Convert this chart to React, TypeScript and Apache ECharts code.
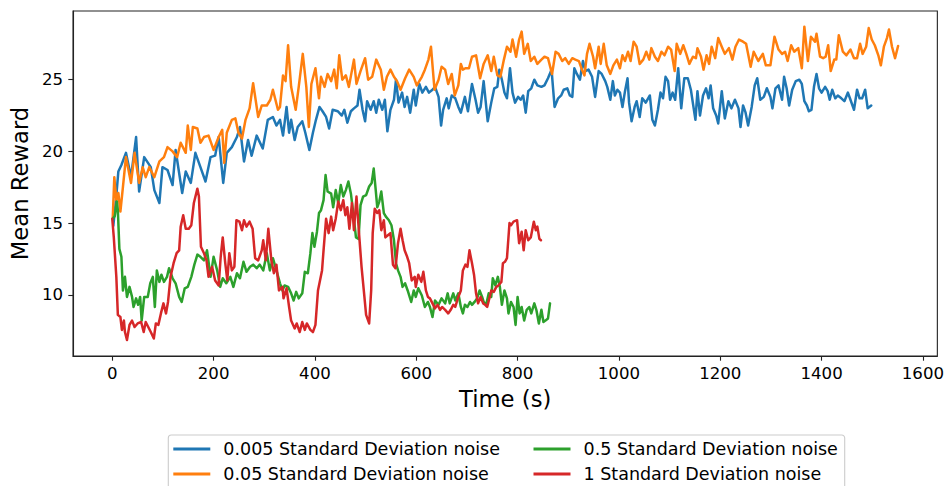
import React, { useEffect, useRef } from "react";
import * as echarts from "echarts";

const xTicks = [0, 200, 400, 600, 800, 1000, 1200, 1400, 1600];
const yTicks = [10, 15, 20, 25];

const seriesNames = [
  "0.005 Standard Deviation noise",
  "0.05 Standard Deviation noise",
  "0.5 Standard Deviation noise",
  "1 Standard Deviation noise",
];
const seriesColors = ["#1f77b4", "#ff7f0e", "#2ca02c", "#d62728"];

const blueTime = [2,7,12,18,27,37,47,53,63,76,83,93,99,109,119,125,138,145,155,164,174,184,194,203,210,219,226,236,246,252,260,268,275,285,297,307,317,324,331,
337,344,349,353,360,366,375,381,389,396,402,409,415,422,428,435,445,453,458,464,471,477,484,488,494,499,503,510,516,521,526,533,538,543,549,556,560,565,572,577,582,588,595,599,606,612,619,625,632,637,644,649,653,660,664,670,677,683,
688,696,702,710,717,722,727,733,741,748,754,760,764,769,774,779,785,790,795,801,806,811,816,821,827,833,839,847,853,860,867,873,880,886,891,898,903,908,912,917,923,929,934,940,947,953,960,966,973,977,983,988,992,997,1002,1007,1012,1017,1020,1025,1031,1035,
1041,1046,1053,1061,1066,1071,1077,1082,1087,1092,1097,1101,1106,1111,1117,1123,1129,1136,1142,1151,1155,1160,1166,1172,1177,1181,1186,1192,1196,1203,1209,1216,1222,1229,1236,1240,1245,1250,1255,1262,1268,1273,1279,1286,1292,1299,1303,1309,1315,1322,1326,1331,1336,1342,1349,1356,1361,1366,1371,1375,1380,1385,
1390,1395,1400,1407,1412,1416,1421,1427,1432,1439,1445,1452,1457,1464,1470,1475,1480,1486,1491,1498];
const blueReward = [14.8,16.5,18.6,19.05,19.9,18.2,21.0,17.2,19.6,18.9,17.3,16.4,18.9,18.7,17.65,20.1,17.1,18.6,17.8,19.9,18.9,17.9,19.6,19.7,21.0,17.8,19.9,20.3,21.0,21.7,19.3,20.8,19.7,21.1,20.2,22.2,22.4,21.8,22.2,
21.1,23.1,21.3,22.2,20.8,21.7,22.1,21.3,20.1,21.3,22.2,23.1,22.8,22.4,21.6,22.9,22.8,22.5,22.9,22.0,22.8,23.0,23.2,24.3,22.9,22.1,23.5,22.9,23.5,22.7,23.6,22.9,23.6,21.4,22.9,23.6,25.0,23.4,24.1,23.1,23.8,22.7,24.3,23.2,24.7,24.1,24.5,24.1,24.3,24.5,23.8,21.8,22.9,23.7,23.0,23.9,23.7,23.1,
22.7,23.8,22.8,24.7,23.6,22.7,23.1,24.9,22.1,23.4,24.4,24.5,25.7,25.0,24.1,23.7,25.8,24.1,23.4,23.8,23.6,23.9,22.7,24.2,24.4,25.0,24.6,24.5,24.6,25.1,25.7,23.1,23.7,23.9,24.3,24.4,23.9,23.8,25.8,25.4,25.0,26.3,25.6,25.7,25.2,23.8,25.6,25.4,24.9,24.5,23.6,24.9,23.9,24.3,24.1,23.1,24.2,25.1,23.4,22.1,23.1,23.5,
22.4,23.7,23.4,23.9,22.2,21.8,22.9,24.1,23.7,25.2,24.9,23.6,24.1,23.6,25.8,23.0,25.1,25.1,24.3,22.2,24.2,22.5,23.9,24.4,23.7,24.6,23.0,22.5,21.95,24.2,22.3,23.5,23.0,23.6,23.0,21.7,23.2,22.7,21.8,23.1,24.6,25.1,23.6,23.8,24.4,23.8,23.0,24.4,24.6,23.6,25.2,24.4,23.2,24.3,24.9,25.0,24.7,23.5,23.2,22.8,22.9,24.5,
25.4,24.4,24.1,24.5,24.2,23.6,24.3,23.7,23.9,23.7,23.5,24.1,23.6,22.9,24.3,23.7,23.7,24.3,23.0,23.2];

const orangeTime = [1,4,8,12,16,21,27,37,44,53,60,66,73,83,93,102,109,119,128,135,145,149,155,159,168,174,181,190,200,210,217,221,226,236,243,249,256,263,271,278,288,295,305,312,317,327,
331,337,342,347,353,362,368,376,383,388,393,401,408,412,419,425,432,438,443,448,454,461,467,477,482,490,499,505,513,521,530,536,542,549,556,562,569,578,586,595,601,611,617,624,629,636,644,650,657,663,670,676,683,
688,692,697,704,710,718,726,733,741,748,753,760,766,773,779,786,790,797,803,808,813,820,826,833,839,847,853,860,868,875,881,888,894,901,908,914,921,927,932,937,942,949,953,960,964,970,976,983,989,996,1002,1007,1012,1018,1023,1029,1035,
1041,1048,1054,1060,1064,1071,1077,1084,1090,1097,1103,1110,1114,1121,1127,1133,1139,1146,1152,1155,1162,1167,1173,1178,1183,1190,1196,1203,1209,1217,1224,1230,1237,1245,1251,1260,1266,1275,1284,1290,1299,1307,1315,1322,1328,1333,1340,1346,1354,1361,1366,1373,1379,1387,
1390,1397,1403,1408,1413,1418,1425,1429,1434,1442,1449,1457,1464,1470,1476,1481,1488,1493,1499,1505,1512,1517,1523,1529,1533,1539,1545,1551];
const orangeReward = [15.4,18.2,16.6,17.1,15.8,17.5,19.6,17.8,19.9,17.8,18.9,18.2,18.9,18.2,19.3,19.6,20.3,20.0,19.6,20.6,19.9,21.8,20.1,21.7,21.6,20.6,21.0,21.1,20.1,21.0,21.5,19.2,21.3,22.2,22.3,21.3,20.9,22.2,23.0,24.75,22.4,23.2,23.2,23.6,24.3,22.9,
23.1,25.3,24.9,27.4,24.5,22.9,24.5,26.8,24.5,21.7,24.7,25.8,23.7,25.2,24.5,25.4,24.9,25.7,24.4,26.7,25.0,25.3,24.5,26.4,24.7,25.6,26.5,25.0,25.2,26.4,25.7,24.3,25.2,25.7,25.2,24.9,24.3,25.1,25.7,25.2,24.6,25.2,25.7,26.4,27.3,24.3,25.0,25.9,25.7,24.7,25.4,23.9,24.6,
26.1,25.7,25.8,25.8,26.6,26.7,25.1,26.1,26.7,25.6,26.6,25.3,25.2,26.4,27.3,26.95,27.8,26.6,27.8,28.35,26.8,27.5,26.3,26.6,26.1,26.4,26.6,26.5,25.4,26.95,26.8,26.3,26.5,26.1,26.5,26.4,26.3,25.7,25.3,26.8,27.5,26.6,25.8,27.3,26.1,27.5,26.0,25.4,26.0,26.4,25.8,26.7,26.3,26.95,26.3,27.65,27.3,
26.1,26.4,26.95,26.4,27.2,26.6,26.3,26.95,26.7,27.3,27.1,25.6,27.5,26.8,27.4,26.8,26.1,26.6,26.5,27.2,26.6,25.7,26.7,26.1,27.3,26.5,27.9,27.3,26.8,27.2,26.4,27.3,27.8,27.65,27.5,25.9,26.95,26.3,26.8,26.0,26.0,28.0,27.1,26.8,26.95,26.3,27.4,26.95,27.2,25.8,28.7,26.3,28.0,27.65,
28.2,26.6,26.5,26.6,27.4,25.6,26.4,26.4,28.1,26.95,26.7,27.1,26.5,26.5,27.5,26.8,27.3,28.6,27.8,27.4,26.7,26.0,27.3,27.9,28.5,27.3,26.5,27.35];

const greenTime = [1,5,9,11,14,18,21,25,29,34,39,42,47,51,55,58,63,70,75,80,84,88,93,97,102,108,112,119,125,132,137,143,149,156,162,168,174,181,187,194,200,207,213,218,225,233,239,246,252,259,265,272,278,285,291,298,305,311,317,324,331,
336,340,347,353,358,363,368,375,380,386,391,395,399,404,408,412,417,421,425,432,436,441,446,451,456,461,466,471,475,481,486,490,495,501,507,512,516,520,523,527,531,536,540,546,551,556,560,564,569,573,578,583,590,595,599,604,611,617,623,627,632,637,644,650,657,662,666,673,677,683,
688,692,696,701,706,710,715,720,725,730,733,738,743,748,751,756,761,765,769,774,779,782,787,792,796,800,804,808,813,818,823,827,833,837,842,847,851,855,860,864];
const greenReward = [15.3,15.5,16.5,15.9,13.2,12.65,10.3,11.25,9.85,10.55,9.85,9.15,9.75,9.3,9.85,8.2,9.85,9.85,10.8,11.25,9.15,11.7,10.9,11.4,10.9,11.25,11.85,11.15,10.8,9.85,9.5,10.45,10.55,11.25,12.1,12.8,12.65,12.4,13.1,11.25,12.65,11.7,10.55,11.15,10.8,11.25,10.55,11.5,11.15,12.3,11.6,11.95,12.1,11.85,12.1,11.7,12.9,11.7,12.55,11.7,10.8,
10.3,10.65,10.55,10.1,9.6,10.2,9.75,10.1,11.6,11.5,12.9,14.3,13.35,14.4,15.7,15.9,16.6,18.35,17.2,17.05,16.1,17.3,16.4,17.65,16.85,17.3,17.9,17.05,15.9,14.0,13.9,16.25,16.85,16.95,17.55,17.8,18.8,17.3,16.1,16.5,17.2,15.7,15.45,15.2,14.85,13.8,12.2,11.7,11.25,10.55,10.8,10.3,9.5,10.3,9.85,10.45,9.95,9.15,9.5,9.15,8.45,9.6,9.3,9.75,9.4,10.1,9.4,10.1,9.6,10.1,
9.15,8.7,9.3,9.15,9.5,9.3,9.5,9.75,10.3,9.85,9.5,9.3,10.1,9.85,11.15,10.65,11.25,10.55,9.3,10.3,9.75,8.7,9.5,9.15,7.9,9.85,8.7,9.15,8.2,8.95,9.15,8.7,9.4,8.95,8.0,8.95,8.1,8.2,8.35,9.4];

const redTime = [0,3,8,11,16,19,23,25,29,34,39,44,50,57,62,66,71,76,82,86,91,96,101,106,110,115,121,127,132,135,140,145,151,156,161,168,171,175,181,186,190,197,203,210,214,218,223,227,231,236,241,245,251,256,260,265,271,277,282,288,295,298,303,308,314,319,324,329,
336,338,344,349,353,360,364,370,375,380,384,391,396,401,406,410,414,417,422,427,432,436,441,446,451,456,460,464,468,473,477,482,487,492,497,501,507,511,514,518,523,527,531,536,539,544,549,554,559,564,569,573,577,582,586,591,597,599,604,610,614,619,623,627,632,637,642,647,651,657,663,668,673,677,683,
688,692,697,701,705,710,714,718,722,727,732,736,740,745,748,753,758,762,768,771,775,779,784,787,792,799,803,808,812,816,821,826,832,836,839,843,846];
const redReward = [15.3,14.0,11.25,8.6,8.45,7.55,8.2,7.4,6.85,7.9,8.2,7.75,8.0,8.1,7.4,8.1,7.75,7.4,6.95,8.0,7.9,8.7,9.4,8.7,9.5,11.25,12.2,12.9,13.1,14.75,15.55,14.6,14.6,14.85,16.4,17.4,16.85,13.35,12.9,12.4,11.25,11.95,11.0,10.65,12.65,14.0,12.2,11.0,12.9,11.7,11.95,15.2,15.1,14.5,15.2,14.75,15.1,14.6,12.55,12.4,13.1,13.8,12.4,14.6,12.4,11.5,12.1,10.3,
10.55,9.75,10.45,9.15,8.2,7.65,8.0,7.4,8.1,7.55,8.0,7.55,7.4,7.9,10.3,11.0,11.7,13.1,15.3,14.3,15.45,14.5,15.3,16.5,15.9,16.6,15.55,16.1,14.6,16.4,14.5,16.85,14.3,11.95,10.1,8.6,8.0,10.3,14.3,16.0,15.7,15.9,14.5,15.2,14.0,14.15,14.3,12.1,11.85,13.6,14.6,13.8,13.1,12.65,12.2,11.0,11.25,10.55,11.4,10.9,11.6,10.3,9.85,9.75,9.4,9.05,9.3,8.95,9.15,8.95,8.7,8.95,9.3,9.15,9.85,
10.3,11.7,12.1,11.95,13.1,12.2,11.4,10.1,9.4,9.85,9.4,9.3,9.15,9.85,10.3,10.2,10.55,10.65,10.9,12.2,12.3,12.55,15.0,14.85,15.1,15.2,13.6,14.4,13.1,14.5,13.8,14.0,15.1,14.5,14.75,13.9,13.8];

const seriesTimes = [blueTime, orangeTime, greenTime, redTime];
const seriesRewards = [blueReward, orangeReward, greenReward, redReward];

const FONT = "DejaVu Sans";

export default function App() {
  const ref = useRef<HTMLDivElement>(null);

  useEffect(() => {
    if (!ref.current) return;
    const chart = echarts.init(ref.current, null, { renderer: "svg" });

    const series = seriesNames.map((name, i) => ({
      name,
      type: "line",
      data: seriesTimes[i].map((t, k) => [t, seriesRewards[i][k]]),
      showSymbol: false,
      symbol: "none",
      lineStyle: { width: 2.5, color: seriesColors[i], join: "round", cap: "round" },
      itemStyle: { color: seriesColors[i] },
      clip: true,
      z: 2 + i,
    }));

    const legendCommon = {
      orient: "vertical",
      top: 438.5,
      padding: 0,
      itemGap: 4,
      itemWidth: 37,
      itemHeight: 3,
      icon: "rect",
      textStyle: {
        fontFamily: FONT,
        fontSize: 17.5,
        color: "#000",
        lineHeight: 21,
        padding: [0, 0, 0, 8],
      },
    };

    chart.setOption({
      animation: false,
      backgroundColor: "#ffffff",
      grid: {
        left: 71.4,
        top: 11,
        width: 872.2,
        height: 345,
        show: true,
        borderColor: "#222",
        borderWidth: 1.1,
        backgroundColor: "transparent",
        containLabel: false,
      },
      xAxis: {
        type: "value",
        min: -77.5,
        max: 1628.5,
        name: "Time (s)",
        nameLocation: "middle",
        nameGap: 31,
        nameTextStyle: { fontFamily: FONT, fontSize: 22.7, color: "#000" },
        axisLine: { show: true, onZero: false, lineStyle: { color: "#222", width: 1.1 } },
        axisTick: {
          show: true,
          length: 4.7,
          customValues: xTicks,
          lineStyle: { color: "#222", width: 1.1 },
        },
        axisLabel: {
          customValues: xTicks,
          formatter: (v: number) => String(v),
          margin: 9,
          fontFamily: FONT,
          fontSize: 16.6,
          color: "#000",
        },
        splitLine: { show: false },
      },
      yAxis: {
        type: "value",
        min: 5.73,
        max: 29.79,
        name: "Mean Reward",
        nameLocation: "middle",
        nameGap: 34,
        nameTextStyle: { fontFamily: FONT, fontSize: 22.7, color: "#000" },
        axisLine: { show: true, onZero: false, lineStyle: { color: "#222", width: 1.1 } },
        axisTick: {
          show: true,
          length: 4.7,
          customValues: yTicks,
          lineStyle: { color: "#222", width: 1.1 },
        },
        axisLabel: {
          customValues: yTicks,
          formatter: (v: number) => String(v),
          margin: 10,
          fontFamily: FONT,
          fontSize: 16.6,
          color: "#000",
        },
        splitLine: { show: false },
      },
      legend: [
        { ...legendCommon, left: 173.3, data: [seriesNames[0], seriesNames[1]] },
        { ...legendCommon, left: 533.5, data: [seriesNames[2], seriesNames[3]] },
      ],
      graphic: [
        {
          type: "rect",
          z: -1,
          shape: { x: 168.3, y: 435, width: 676.4, height: 70, r: 3 },
          style: { fill: "#ffffff", stroke: "#cccccc", lineWidth: 1.1 },
        },
      ],
      series,
    });

    return () => chart.dispose();
  }, []);

  return (
    <div
      ref={ref}
      style={{ position: "fixed", left: 0, top: 0, width: 947, height: 486 }}
    />
  );
}
